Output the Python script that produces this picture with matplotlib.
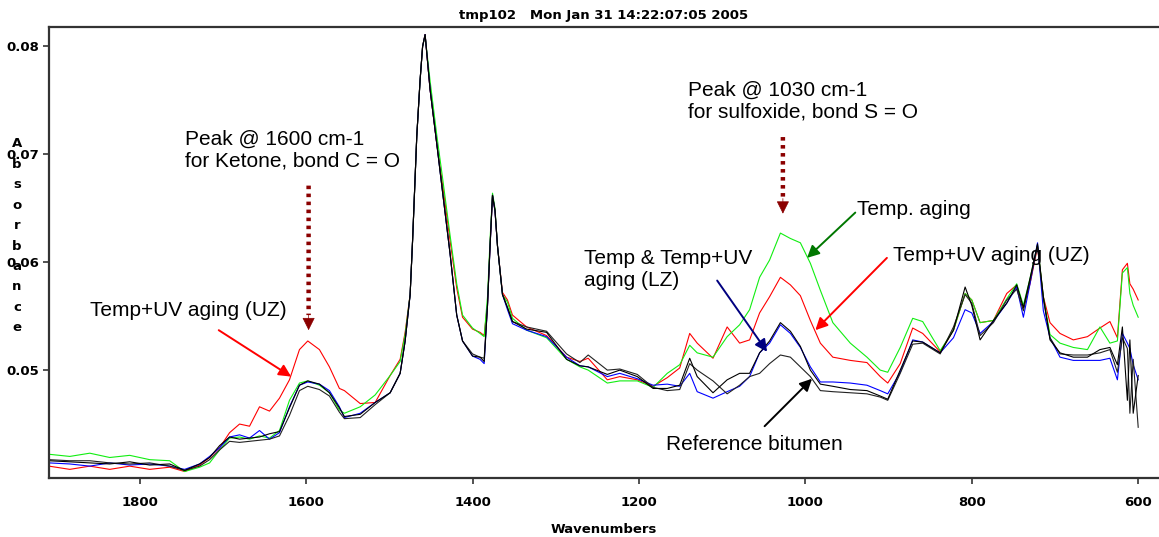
import matplotlib
matplotlib.use("Agg")
import matplotlib.pyplot as plt

# Wavenumbers (cm-1), shared by all spectra
wn = [1909, 1884, 1860, 1836, 1812, 1788, 1764, 1746, 1728, 1716,
      1704, 1692, 1680, 1668, 1656, 1644, 1632, 1620, 1608, 1598,
      1584, 1572, 1560, 1554, 1535, 1517, 1499, 1487, 1481, 1475,
      1472, 1467, 1463, 1460, 1457, 1451, 1443, 1436, 1427, 1419,
      1412, 1400, 1391, 1386, 1382, 1379, 1376, 1373, 1370, 1364, 1358, 1352,
      1335, 1311, 1287, 1271, 1261, 1238, 1223, 1202, 1183, 1166,
      1151, 1139, 1130, 1111, 1094, 1079, 1067, 1055, 1043, 1030,
      1018, 1006, 994, 982, 967, 946, 926, 910, 901, 886,
      871, 859, 838, 822, 808, 800, 790, 774, 758, 746,
      738, 730, 721, 714, 706, 694, 678, 661, 646, 634,
      625, 619, 613, 610, 606, 600]

# Temp+UV aging (UZ)
red = [.0411, .0408, .0411, .0408, .0411, .0408, .0410, .0406, .0412, .0419,
       .0428, .0442, .0450, .0448, .0466, .0462, .0474, .0491, .0519, .0527,
       .0519, .0503, .0483, .0481, .0469, .0470, .0495, .0510, .0535, .0570,
       .0621, .0717, .0769, .0800, .0811, .0760, .0710, .0672, .0620, .0576,
       .0549, .0538, .0535, .0532, .0562, .0615, .0662, .0648, .0615, .0572, .0565, .0551,
       .0540, .0532, .0512, .0508, .0511, .0491, .0494, .0491, .0485, .0493,
       .0502, .0534, .0525, .0511, .0540, .0525, .0528, .0553, .0568, .0586,
       .0579, .0569, .0546, .0525, .0512, .0509, .0507, .0494, .0488, .0506,
       .0539, .0534, .0517, .0537, .0571, .0565, .0544, .0546, .0571, .0579,
       .0558, .0580, .0614, .0568, .0544, .0534, .0528, .0531, .0539, .0545,
       .0530, .0593, .0599, .0580, .0575, .0565]

# Temp. aging
green = [.0422, .0420, .0423, .0419, .0421, .0417, .0416, .0406, .0410, .0414,
         .0426, .0437, .0438, .0436, .0439, .0437, .0444, .0472, .0488, .0490,
         .0486, .0479, .0463, .0460, .0466, .0477, .0495, .0508, .0533, .0570,
         .0621, .0717, .0769, .0800, .0810, .0768, .0718, .0678, .0625, .0580,
         .0551, .0539, .0534, .0531, .0568, .0620, .0664, .0650, .0615, .0570, .0563, .0548,
         .0537, .0530, .0510, .0503, .0500, .0488, .0490, .0490, .0484, .0497,
         .0505, .0523, .0516, .0512, .0531, .0542, .0556, .0586, .0602, .0627,
         .0622, .0618, .0599, .0574, .0544, .0525, .0512, .0500, .0498, .0521,
         .0548, .0545, .0518, .0537, .0571, .0565, .0544, .0546, .0566, .0580,
         .0560, .0585, .0616, .0568, .0533, .0525, .0521, .0519, .0540, .0525,
         .0527, .0590, .0595, .0571, .0560, .0549]

# Temp & Temp+UV aging (LZ)
blue = [.0414, .0413, .0411, .0414, .0412, .0413, .0411, .0408, .0413, .0420,
        .0428, .0438, .0440, .0437, .0444, .0436, .0442, .0466, .0486, .0489,
        .0487, .0481, .0466, .0456, .0460, .0470, .0479, .0497, .0527, .0570,
        .0621, .0717, .0769, .0800, .0811, .0760, .0710, .0665, .0608, .0551,
        .0527, .0513, .0510, .0506, .0560, .0613, .0662, .0647, .0615, .0570, .0556, .0543,
        .0537, .0531, .0512, .0504, .0503, .0494, .0497, .0492, .0486, .0487,
        .0485, .0497, .0480, .0474, .0480, .0485, .0494, .0516, .0525, .0542,
        .0534, .0521, .0503, .0489, .0489, .0488, .0486, .0481, .0478, .0498,
        .0528, .0526, .0516, .0530, .0556, .0553, .0534, .0545, .0562, .0577,
        .0549, .0580, .0618, .0555, .0530, .0512, .0509, .0509, .0509, .0511,
        .0491, .0534, .0525, .0520, .0505, .0491]

black_lz = [.0416, .0415, .0414, .0413, .0415, .0412, .0413, .0407, .0413, .0419,
            .0430, .0438, .0436, .0437, .0438, .0441, .0443, .0465, .0486, .0490,
            .0487, .0479, .0465, .0457, .0459, .0470, .0479, .0497, .0527, .0570,
            .0621, .0717, .0769, .0800, .0811, .0760, .0710, .0665, .0608, .0551,
            .0527, .0513, .0512, .0508, .0560, .0614, .0662, .0648, .0615, .0570, .0558, .0545,
            .0538, .0535, .0510, .0504, .0503, .0496, .0500, .0494, .0483, .0483,
            .0486, .0511, .0494, .0479, .0491, .0497, .0497, .0516, .0527, .0544,
            .0536, .0522, .0500, .0487, .0485, .0482, .0481, .0476, .0473, .0500,
            .0527, .0526, .0516, .0537, .0577, .0560, .0528, .0546, .0562, .0579,
            .0558, .0585, .0617, .0568, .0528, .0516, .0512, .0512, .0519, .0521,
            .0505, .0540, .0472, .0528, .0460, .0495]

# Reference bitumen
black_ref = [.0417, .0416, .0416, .0414, .0413, .0414, .0411, .0407, .0411, .0417,
             .0426, .0434, .0433, .0434, .0435, .0436, .0439, .0458, .0481, .0485,
             .0482, .0476, .0461, .0455, .0456, .0468, .0479, .0497, .0527, .0570,
             .0621, .0717, .0769, .0800, .0811, .0760, .0710, .0665, .0608, .0551,
             .0527, .0515, .0512, .0511, .0560, .0614, .0662, .0648, .0615, .0570, .0558, .0545,
             .0540, .0536, .0515, .0507, .0514, .0500, .0501, .0496, .0484, .0481,
             .0482, .0506, .0500, .0490, .0478, .0486, .0494, .0497, .0506, .0514,
             .0512, .0503, .0494, .0481, .0480, .0479, .0478, .0475, .0472, .0497,
             .0524, .0525, .0515, .0540, .0570, .0562, .0532, .0544, .0565, .0575,
             .0555, .0583, .0615, .0566, .0530, .0515, .0514, .0514, .0516, .0519,
             .0498, .0530, .0520, .0460, .0510, .0447]

xticks = [1800, 1600, 1400, 1200, 1000, 800, 600]
yticks = [0.05, 0.06, 0.07, 0.08]

W, H = 1159, 537
fig = plt.figure(figsize=(W / 100, H / 100), dpi=100)
ax = fig.add_axes([49 / W, 1 - 478 / H, 1 - 49 / W, (478 - 27) / H])

lw = 0.8
ax.plot(wn, red, color="#ff0000", lw=lw)
ax.plot(wn, green, color="#11ee11", lw=lw)
ax.plot(wn, blue, color="#0000ff", lw=lw)
ax.plot(wn, black_ref, color="#222222", lw=lw)
ax.plot(wn, black_lz, color="#000000", lw=lw)

ax.set_xlim(1909, 575)
ax.set_ylim(0.0400, 0.0818)
ax.set_xticks(xticks)
ax.set_yticks(yticks)
ax.set_yticklabels([f"{v:.2f}" for v in yticks])

tick_font = dict(family="DejaVu Sans", weight="bold", size=9.5)
for lab in ax.get_xticklabels() + ax.get_yticklabels():
    lab.set_fontfamily(tick_font["family"])
    lab.set_fontweight("bold")
    lab.set_fontsize(tick_font["size"])
ax.tick_params(direction="out", length=4, width=1.2, color="#333333", pad=3)
ax.tick_params(axis="x", pad=9)

for side in ["left", "bottom", "top"]:
    ax.spines[side].set_linewidth(1.6)
    ax.spines[side].set_color("#333333")
ax.spines["right"].set_visible(False)

ax.set_title("tmp102   Mon Jan 31 14:22:07:05 2005", pad=6, **tick_font)
ax.set_xlabel("Wavenumbers", labelpad=10, **tick_font)

# stacked y label, overlapping the tick labels as in the original print
for i, ch in enumerate("Absorbance"):
    fig.text(17 / W, 1 - (144 + i * 20.4) / H, ch, ha="center", va="center", **tick_font)

ann_font = dict(family="Liberation Sans", size=15)
dark_red = "#8b0000"

# dotted peak markers: dotted shaft + solid head
for x, y0, y1 in [(1597, 0.0671, 0.0537), (1027, 0.0716, 0.0645)]:
    ymid = y1 + 0.0014
    ax.annotate("", xy=(x, ymid), xytext=(x, y0),
                arrowprops=dict(arrowstyle="-", color=dark_red, lw=3.2,
                                linestyle=(0, (0.8, 1.0)), capstyle="butt",
                                shrinkA=0, shrinkB=0))
    ax.annotate("", xy=(x, y1), xytext=(x, ymid),
                arrowprops=dict(arrowstyle="-|>", color=dark_red, lw=0.5,
                                mutation_scale=20, shrinkA=0, shrinkB=0))

ax.text(1745, 0.0704, "Peak @ 1600 cm-1\nfor Ketone, bond C = O",
        ha="left", va="center", linespacing=1.2, **ann_font)
ax.text(1141, 0.0749, "Peak @ 1030 cm-1\nfor sulfoxide, bond S = O",
        ha="left", va="center", linespacing=1.2, **ann_font)

labels = [
    ("Temp+UV aging (UZ)", (1860, 0.0555), (1705, 0.0537), (1618, 0.0494), "#ff0000"),
    ("Temp. aging", (938, 0.0649), (940, 0.0646), (998, 0.0604), "#007700"),
    ("Temp+UV aging (UZ)", (895, 0.0606), (902, 0.0604), (988, 0.0537), "#ff0000"),
    ("Temp & Temp+UV\naging (LZ)", (1266, 0.0593), (1106, 0.0583), (1046, 0.0517), "#000080"),
    ("Reference bitumen", (1168, 0.0431), (1049, 0.0448), (992, 0.0492), "#000000"),
]
for text, tpos, tail, head, col in labels:
    ax.text(tpos[0], tpos[1], text, ha="left", va="center", linespacing=1.2, **ann_font)
    ax.annotate("", xy=head, xytext=tail,
                arrowprops=dict(arrowstyle="-|>", color=col, lw=1.4,
                                mutation_scale=18, shrinkA=0, shrinkB=0))

fig.savefig("out.png", dpi=100)
